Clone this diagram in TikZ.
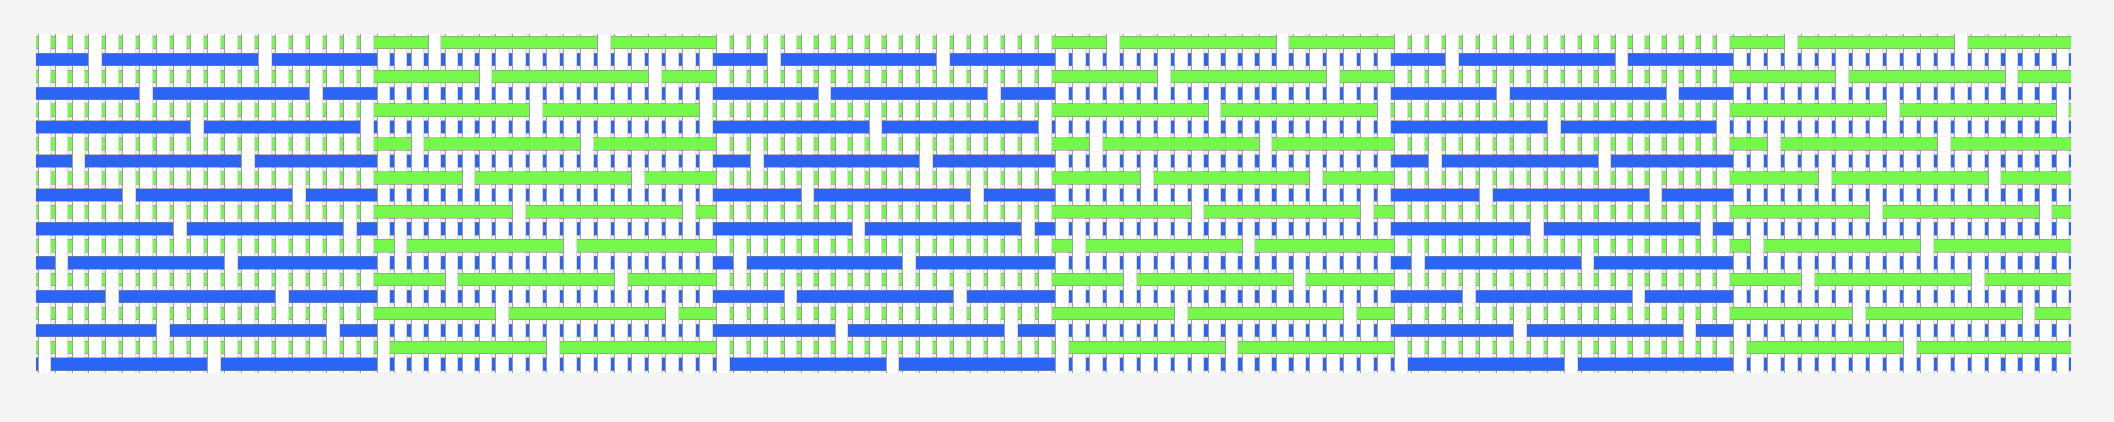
\documentclass[tikz,border=0pt]{standalone}
\usepackage{tikz}
\definecolor{bgc}{HTML}{F4F4F4}
\definecolor{gapc}{HTML}{EDEDED}
\definecolor{grn}{HTML}{76F74B}
\definecolor{blu}{HTML}{2C65F6}
\definecolor{wedge}{HTML}{9C9C9C}
\definecolor{wedgeb}{HTML}{DCDCDC}
\definecolor{fedge}{HTML}{8A8A8A}
\tikzset{
  warpedge/.style={draw=wedge,line width=1pt},
  warpedgeb/.style={draw=wedgeb,line width=1pt},
  weftedge/.style={draw=fedge,line width=0.8pt,opacity=0.55},
}
\begin{document}
\begin{tikzpicture}[x=1pt,y=-1pt]
\useasboundingbox (0,0) rectangle (2114,422);
\fill[bgc] (0,0) rectangle (2114,422);
\coordinate (tl) at (36,34);
\coordinate (br) at (2071,372.7);
\fill[gapc] (tl) rectangle (br);
% weft threads, full length
\foreach \r in {0,...,19}{
  \pgfmathsetmacro\yt{34+16.935*\r+2.1}
  \pgfmathsetmacro\yb{\yt+12.7}
  \ifodd\r \def\wc{blu}\else\def\wc{grn}\fi
  \fill[\wc] (36,\yt) rectangle (2071,\yb);
  \draw[weftedge] (36,\yt) -- (2071,\yt) (36,\yb) -- (2071,\yb);
}
% warp threads, full height
\foreach \c in {0,...,119}{
  \pgfmathsetmacro\xl{36+16.958*\c+2.1}
  \pgfmathsetmacro\xr{\xl+12.7}
  \fill[white] (\xl,34) rectangle (\xr,372.7);
  \draw[warpedgeb] (\xr,34) -- (\xr,372.7);
  \draw[warpedge] (\xl,34) -- (\xl,372.7);
}
% weft floats over the warp, with two warp crossings per row and block
\foreach \b in {0,...,5}{
  \foreach \k in {0,...,9}{
    \ifodd\b
      \pgfmathtruncatemacro\row{2*\k}\def\wc{grn}
    \else
      \pgfmathtruncatemacro\row{2*\k+1}\def\wc{blu}
    \fi
    \pgfmathtruncatemacro\a{mod(3*(\k+1),10)}
    \pgfmathsetmacro\yt{34+16.935*\row+2.1}
    \pgfmathsetmacro\yb{\yt+12.7}
    \pgfmathsetmacro\xs{36+16.958*20*\b}
    \pgfmathsetmacro\xe{36+16.958*20*(\b+1)}
    \fill[\wc] (\xs,\yt) rectangle (\xe,\yb);
    \draw[weftedge] (\xs,\yt) -- (\xe,\yt) (\xs,\yb) -- (\xe,\yb);
    \foreach \cc in {0,10}{
      \pgfmathsetmacro\xl{36+16.958*(20*\b+\a+\cc)+2.1}
      \pgfmathsetmacro\xr{\xl+12.7}
      \fill[white] (\xl,\yt-0.8) rectangle (\xr,\yb+0.8);
      \draw[warpedgeb] (\xr,\yt-0.8) -- (\xr,\yb+0.8);
      \draw[warpedge] (\xl,\yt-0.8) -- (\xl,\yb+0.8);
    }
  }
}
\end{tikzpicture}
\end{document}
